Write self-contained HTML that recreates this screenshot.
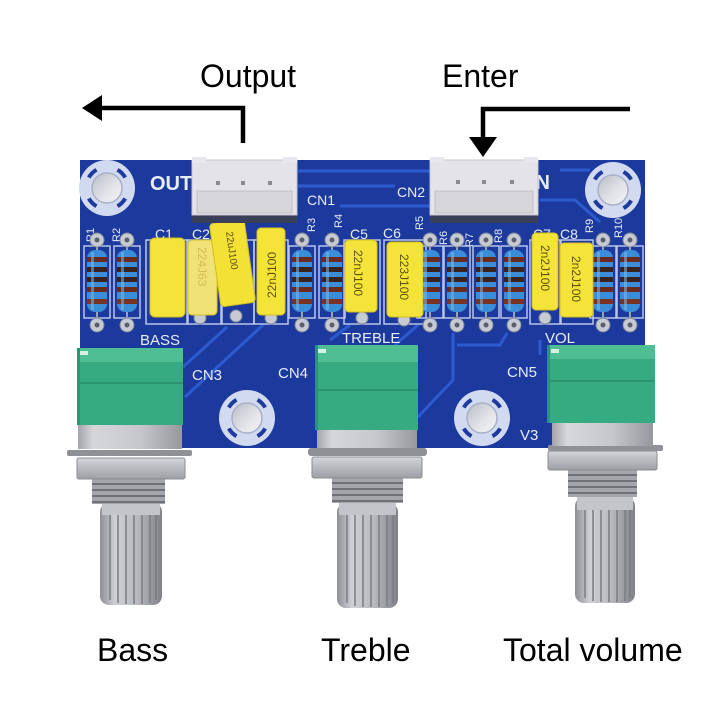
<!DOCTYPE html>
<html><head><meta charset="utf-8"><style>
html,body{margin:0;padding:0;background:#fff;width:720px;height:720px;overflow:hidden}
svg{display:block}
</style></head><body>
<svg width="720" height="720" viewBox="0 0 720 720" xmlns="http://www.w3.org/2000/svg" font-family="'Liberation Sans', Arial, sans-serif">
<defs>
 <linearGradient id="metal" x1="0" x2="1" y1="0" y2="0">
  <stop offset="0" stop-color="#a3a5ab"/><stop offset=".15" stop-color="#d6d7db"/><stop offset=".6" stop-color="#c6c7cc"/><stop offset="1" stop-color="#96989e"/>
 </linearGradient>
 <linearGradient id="shaft" x1="0" x2="1" y1="0" y2="0">
  <stop offset="0" stop-color="#8e9096"/><stop offset=".25" stop-color="#cfd0d4"/><stop offset=".6" stop-color="#b9bac0"/><stop offset="1" stop-color="#7f8187"/>
 </linearGradient>
 <linearGradient id="nut" x1="0" x2="0" y1="0" y2="1">
  <stop offset="0" stop-color="#d5d6da"/><stop offset=".5" stop-color="#b8b9be"/><stop offset="1" stop-color="#9d9fa5"/>
 </linearGradient>
 <linearGradient id="hole" x1="0" x2="1" y1="0" y2="1">
  <stop offset="0" stop-color="#b9bcc6"/><stop offset=".6" stop-color="#e4e5e9"/><stop offset="1" stop-color="#f2f2f4"/>
 </linearGradient>
 <g id="res">
  <rect x="-13" y="6" width="26" height="72" fill="none" stroke="#b9c5ea" stroke-width="1.5"/>
  <line x1="0" y1="0" x2="0" y2="85" stroke="#9aa3b5" stroke-width="2"/>
  <circle cx="0" cy="0" r="7" fill="#c6cad3" stroke="#7d8497"/>
  <circle cx="0" cy="0" r="2.5" fill="#5a5e6a"/>
  <circle cx="0" cy="85" r="7" fill="#c6cad3" stroke="#7d8497"/>
  <circle cx="0" cy="85" r="2.5" fill="#5a5e6a"/>
  <rect x="-10" y="10" width="20" height="62" rx="8" fill="#3a8dd6"/>
  <rect x="-10" y="17" width="20" height="5" fill="#6a2a1e"/>
  <rect x="-10" y="27" width="20" height="5" fill="#3a221e"/>
  <rect x="-10" y="37" width="20" height="5" fill="#3a221e"/>
  <rect x="-10" y="47" width="20" height="5" fill="#6a2a1e"/>
  <rect x="-10" y="59" width="20" height="5" fill="#7a3322"/>
  <rect x="-6" y="12" width="3" height="58" fill="#7bbcef" opacity=".55"/>
 </g>
 <g id="mh">
  <circle r="28" fill="#d2daef"/>
  <g fill="none" stroke="#1d3a9e" stroke-width="4">
   <path d="M18.2,10.5 A21,21 0 0 1 10.5,18.2"/>
   <path d="M-10.5,18.2 A21,21 0 0 1 -18.2,10.5"/>
   <path d="M-18.2,-10.5 A21,21 0 0 1 -10.5,-18.2"/>
   <path d="M10.5,-18.2 A21,21 0 0 1 18.2,-10.5"/>
  </g>
  <circle r="15" fill="url(#hole)" stroke="#a8b0c8" stroke-width="1.5"/>
 </g>
</defs>

<rect width="720" height="720" fill="#fff"/>

<!-- top labels & arrows -->
<text x="200" y="87" font-size="32" fill="#000">Output</text>
<text x="442" y="87" font-size="32" fill="#000">Enter</text>
<polyline points="243,143 243,108 98,108" fill="none" stroke="#000" stroke-width="4.5"/>
<polygon points="82,108 102,95 102,121" fill="#000"/>
<polyline points="630,109 483,109 483,140" fill="none" stroke="#000" stroke-width="4.5"/>
<polygon points="483,157 469,137 497,137" fill="#000"/>

<!-- PCB -->
<rect x="80" y="160" width="565" height="288" fill="#1c3a9e"/>
<!-- traces -->
<g fill="none" stroke="#2c5bd0" stroke-width="3">
 <line x1="298" y1="171" x2="430" y2="171"/>
 <line x1="298" y1="186" x2="395" y2="186"/>
 <line x1="340" y1="206" x2="430" y2="206"/>
 <path d="M540 200 L575 200 L600 222"/>
 <path d="M560 170 L590 170"/>
 <path d="M227 327 L183 367"/>
 <path d="M263 325 L185 397"/>
 <path d="M453 333 L453 380 L418 417"/>
 <path d="M457 345 L500 345 L507 333"/>
 <path d="M330 340 L350 325"/>
 <path d="M395 345 L418 325"/>
 <path d="M540 340 L540 355"/>
</g>

<!-- mounting holes -->
<use href="#mh" x="107" y="188"/>
<use href="#mh" x="613" y="190"/>
<use href="#mh" x="247" y="418"/>
<use href="#mh" x="482" y="418"/>

<!-- silkscreen text -->
<g fill="#e8ecf6">
 <text x="150" y="190" font-size="20" font-weight="bold">OUT</text>
 <text x="530" y="189" font-size="20" font-weight="bold">IN</text>
 <text x="307" y="205" font-size="14">CN1</text>
 <text x="397" y="197" font-size="14">CN2</text>
 <text x="155" y="239" font-size="14">C1</text>
 <text x="192" y="239" font-size="14">C2</text>
 <text x="350" y="239" font-size="14">C5</text>
 <text x="383" y="238" font-size="14">C6</text>
 <text x="533" y="239" font-size="14">C7</text>
 <text x="560" y="239" font-size="14">C8</text>
 <g font-size="11">
  <text transform="translate(94,242) rotate(-90)">R1</text>
  <text transform="translate(120,242) rotate(-90)">R2</text>
  <text transform="translate(315,232) rotate(-90)">R3</text>
  <text transform="translate(342,228) rotate(-90)">R4</text>
  <text transform="translate(423,230) rotate(-90)">R5</text>
  <text transform="translate(447,245) rotate(-90)">R6</text>
  <text transform="translate(473,247) rotate(-90)">R7</text>
  <text transform="translate(502,243) rotate(-90)">R8</text>
  <text transform="translate(593,233) rotate(-90)">R9</text>
  <text transform="translate(622,238) rotate(-90)">R10</text>
 </g>
 <text x="140" y="345" font-size="15">BASS</text>
 <text x="342" y="343" font-size="15">TREBLE</text>
 <text x="545" y="343" font-size="15">VOL</text>
 <text x="192" y="380" font-size="15">CN3</text>
 <text x="278" y="378" font-size="15">CN4</text>
 <text x="507" y="377" font-size="15">CN5</text>
 <text x="520" y="440" font-size="15">V3</text>
</g>

<!-- cap silkscreen boxes and pads -->
<g fill="none" stroke="#b9c5ea" stroke-width="1.5">
 <rect x="146" y="240" width="42" height="84"/>
 <rect x="187" y="240" width="34" height="84"/>
 <rect x="222" y="240" width="32" height="84"/>
 <rect x="254" y="240" width="34" height="84"/>
 <rect x="344" y="240" width="36" height="84"/>
 <rect x="384" y="240" width="42" height="84"/>
 <rect x="530" y="240" width="30" height="84"/>
 <rect x="561" y="240" width="32" height="84"/>
</g>
<g fill="#c6cad3" stroke="#7d8497">
 <circle cx="200" cy="318" r="6"/>
 <circle cx="236" cy="316" r="6"/>
 <circle cx="271" cy="318" r="6"/>
 <circle cx="362" cy="318" r="6"/>
 <circle cx="404" cy="320" r="6"/>
 <circle cx="545" cy="318" r="6"/>
</g>

<!-- resistors -->
<use href="#res" x="97" y="240"/>
<use href="#res" x="127" y="240"/>
<use href="#res" x="302" y="240"/>
<use href="#res" x="332" y="240"/>
<use href="#res" x="430" y="240"/>
<use href="#res" x="457" y="240"/>
<use href="#res" x="486" y="240"/>
<use href="#res" x="514" y="240"/>
<use href="#res" x="603" y="240"/>
<use href="#res" x="630" y="240"/>

<!-- capacitors -->
<g stroke="#d2bf22" stroke-width="1">
 <rect x="150" y="238" width="35" height="79" rx="5" fill="#f4e43a"/>
 <rect x="188" y="240" width="29" height="75" rx="4" fill="#f1e277"/>
 <rect x="257" y="228" width="28" height="87" rx="4" fill="#f4e43a"/>
 <rect x="345" y="240" width="32" height="72" rx="4" fill="#f4e43a"/>
 <rect x="387" y="242" width="36" height="75" rx="4" fill="#f4e43a"/>
 <rect x="532" y="233" width="26" height="77" rx="4" fill="#f4e43a"/>
 <rect x="560" y="243" width="33" height="74" rx="4" fill="#f4e43a"/>
 <g transform="rotate(-8 232 263)"><rect x="215" y="221" width="35" height="84" rx="4" fill="#f3e135"/></g>
</g>
<g font-size="12" fill="#5e4f0c">
 <text transform="translate(198,247) rotate(90)" fill="#d3bd55">224J63</text>
 <text transform="translate(276,298) rotate(-90)">22nJ100</text>
 <text transform="translate(354,250) rotate(90)">22nJ100</text>
 <text transform="translate(400,254) rotate(90)">223J100</text>
 <text transform="translate(541,245) rotate(90)">2n2J100</text>
 <text transform="translate(572,256) rotate(90)">2n2J100</text>
 <text transform="translate(226,232) rotate(82)" font-size="10">22uJ100</text>
</g>

<!-- connectors -->
<g>
 <rect x="192" y="214" width="105" height="9" fill="#3a3f5a"/>
 <rect x="192" y="160" width="105" height="55" fill="#e4e4e8" stroke="#c4c4cc"/>
 <rect x="192" y="157" width="14" height="6" fill="#e8e8ec"/>
 <rect x="283" y="157" width="14" height="6" fill="#e8e8ec"/>
 <rect x="197" y="191" width="95" height="22" fill="#d6d6dc" stroke="#c0c0c8"/>
 <rect x="216" y="181" width="4" height="4" fill="#8a8a92"/>
 <rect x="241" y="181" width="4" height="4" fill="#8a8a92"/>
 <rect x="268" y="181" width="4" height="4" fill="#8a8a92"/>

 <rect x="430" y="214" width="108" height="9" fill="#3a3f5a"/>
 <rect x="430" y="160" width="108" height="55" fill="#e4e4e8" stroke="#c4c4cc"/>
 <rect x="430" y="157" width="14" height="6" fill="#e8e8ec"/>
 <rect x="524" y="157" width="14" height="6" fill="#e8e8ec"/>
 <rect x="435" y="191" width="98" height="22" fill="#d6d6dc" stroke="#c0c0c8"/>
 <rect x="456" y="180" width="4" height="4" fill="#8a8a92"/>
 <rect x="482" y="180" width="4" height="4" fill="#8a8a92"/>
 <rect x="510" y="180" width="4" height="4" fill="#8a8a92"/>
</g>

<!-- Pot 1 -->
<g>
 <rect x="100" y="503" width="62" height="102" rx="9" fill="url(#shaft)"/>
 <g stroke="#7a7c82" stroke-width="1.5">
  <line x1="110" y1="515" x2="110" y2="600"/><line x1="118" y1="515" x2="118" y2="603"/>
  <line x1="126" y1="515" x2="126" y2="604"/><line x1="134" y1="515" x2="134" y2="604"/>
  <line x1="142" y1="515" x2="142" y2="604"/><line x1="150" y1="515" x2="150" y2="603"/>
  <line x1="156" y1="515" x2="156" y2="600"/>
 </g>
 <rect x="102" y="503" width="58" height="12" fill="#c4c5ca"/>
 <rect x="92" y="479" width="73" height="25" fill="#a4a6ac"/>
 <g stroke="#6f7177" stroke-width="2"><line x1="92" y1="484" x2="165" y2="484"/><line x1="92" y1="490" x2="165" y2="490"/><line x1="92" y1="496" x2="165" y2="496"/><line x1="92" y1="502" x2="165" y2="502"/></g>
 <rect x="77" y="458" width="108" height="21" rx="2" fill="url(#nut)" stroke="#8a8c92"/>
 <rect x="67" y="450" width="125" height="6" rx="2" fill="#8f9197"/>
 <rect x="78" y="425" width="104" height="24" fill="url(#metal)"/>
 <rect x="77" y="348" width="106" height="77" fill="#36ab82"/>
 <rect x="77" y="348" width="106" height="14" fill="#4fbf93"/>
 <rect x="77" y="382" width="106" height="2" fill="#2a9570"/>
 <rect x="77" y="348" width="3" height="77" fill="#2a9570"/>
 <rect x="80" y="351" width="8" height="4" fill="#d8f0e4"/>
</g>

<!-- Pot 2 -->
<g>
 <rect x="337" y="503" width="61" height="105" rx="9" fill="url(#shaft)"/>
 <g stroke="#7a7c82" stroke-width="1.5">
  <line x1="347" y1="515" x2="347" y2="603"/><line x1="355" y1="515" x2="355" y2="606"/>
  <line x1="363" y1="515" x2="363" y2="607"/><line x1="371" y1="515" x2="371" y2="607"/>
  <line x1="379" y1="515" x2="379" y2="607"/><line x1="387" y1="515" x2="387" y2="606"/>
  <line x1="393" y1="515" x2="393" y2="603"/>
 </g>
 <rect x="339" y="503" width="57" height="12" fill="#c4c5ca"/>
 <rect x="332" y="478" width="71" height="25" fill="#a4a6ac"/>
 <g stroke="#6f7177" stroke-width="2"><line x1="332" y1="483" x2="403" y2="483"/><line x1="332" y1="489" x2="403" y2="489"/><line x1="332" y1="495" x2="403" y2="495"/><line x1="332" y1="501" x2="403" y2="501"/></g>
 <rect x="312" y="457" width="110" height="21" rx="2" fill="url(#nut)" stroke="#8a8c92"/>
 <rect x="308" y="448" width="119" height="8" rx="3" fill="#8f9197"/>
 <rect x="317" y="430" width="100" height="18" fill="url(#metal)"/>
 <rect x="315" y="345" width="103" height="85" fill="#36ab82"/>
 <rect x="315" y="345" width="103" height="17" fill="#4fbf93"/>
 <rect x="315" y="389" width="103" height="2" fill="#2a9570"/>
 <rect x="315" y="345" width="3" height="85" fill="#2a9570"/>
 <rect x="318" y="349" width="8" height="4" fill="#d8f0e4"/>
</g>

<!-- Pot 3 -->
<g>
 <rect x="575" y="497" width="60" height="106" rx="9" fill="url(#shaft)"/>
 <g stroke="#7a7c82" stroke-width="1.5">
  <line x1="585" y1="510" x2="585" y2="598"/><line x1="593" y1="510" x2="593" y2="601"/>
  <line x1="601" y1="510" x2="601" y2="602"/><line x1="609" y1="510" x2="609" y2="602"/>
  <line x1="617" y1="510" x2="617" y2="602"/><line x1="625" y1="510" x2="625" y2="601"/>
  <line x1="630" y1="510" x2="630" y2="598"/>
 </g>
 <rect x="577" y="497" width="56" height="13" fill="#c4c5ca"/>
 <rect x="568" y="470" width="69" height="27" fill="#a4a6ac"/>
 <g stroke="#6f7177" stroke-width="2"><line x1="568" y1="475" x2="637" y2="475"/><line x1="568" y1="481" x2="637" y2="481"/><line x1="568" y1="487" x2="637" y2="487"/><line x1="568" y1="493" x2="637" y2="493"/></g>
 <rect x="548" y="451" width="109" height="19" rx="2" fill="url(#nut)" stroke="#8a8c92"/>
 <rect x="548" y="445" width="115" height="6" rx="2" fill="#8f9197"/>
 <rect x="552" y="423" width="101" height="23" fill="url(#metal)"/>
 <rect x="547" y="345" width="108" height="78" fill="#36ab82"/>
 <rect x="547" y="345" width="108" height="14" fill="#4fbf93"/>
 <rect x="547" y="380" width="108" height="2" fill="#2a9570"/>
 <rect x="547" y="345" width="3" height="78" fill="#2a9570"/>
 <rect x="551" y="349" width="8" height="4" fill="#d8f0e4"/>
</g>

<!-- bottom labels -->
<text x="97" y="661" font-size="32" fill="#000">Bass</text>
<text x="321" y="661" font-size="32" fill="#000">Treble</text>
<text x="503" y="661" font-size="32" fill="#000">Total volume</text>
</svg>
</body></html>
